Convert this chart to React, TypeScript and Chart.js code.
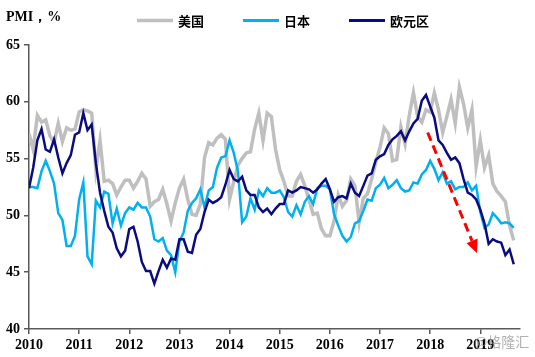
import React, { useEffect, useRef } from 'react';
import { Chart, registerables } from 'chart.js';

Chart.register(...registerables);

// ---- data ----
const yearLabels = ['2010', '2011', '2012', '2013', '2014', '2015', '2016', '2017', '2018', '2019'];
const yTicks = [40, 45, 50, 55, 60, 65];
const seriesNames = ['美国', '日本', '欧元区'];

// monthly PMI, Jan 2010 .. Sep 2019
const usData = [
  57.2, 55.8, 58.8, 58.2, 58.4, 57.0, 56.4, 58.1, 56.5, 57.7, 57.5, 57.6,
  59.1, 59.3, 59.2, 59.0, 54.0, 56.6, 53.0, 53.1, 52.8, 51.8, 52.5, 53.1,
  53.1, 52.4, 53.0, 53.7, 53.2, 50.8, 51.2, 51.4, 52.3, 51.0, 49.5, 51.1,
  52.4, 53.2, 51.4, 50.1, 50.0, 51.0, 55.1, 56.4, 56.2, 56.8, 57.1, 56.7,
  51.4, 53.0, 54.4, 55.0, 55.5, 55.6, 57.6, 59.0, 56.6, 59.0, 58.7, 55.8,
  54.0, 53.0, 51.7, 51.7, 53.0, 53.6, 52.6, 51.4, 50.1, 50.2, 48.8, 48.2,
  48.2, 49.5, 51.8, 50.8, 51.3, 53.2, 52.6, 49.4, 51.5, 51.9, 53.2, 54.7,
  56.0, 57.7, 57.2, 54.8, 54.9, 57.8, 56.3, 58.8, 60.8, 58.7, 58.2, 59.3,
  59.1, 60.8, 59.3, 57.3, 58.7, 60.2, 58.1, 61.3, 59.8, 57.7, 59.3, 54.3,
  56.6, 54.2, 55.3, 52.8, 52.1, 51.7, 51.2, 49.1, 47.8,
];
const jpData = [
  52.5, 52.5, 52.4, 53.9, 54.8, 53.9, 52.8, 50.2, 49.6, 47.3, 47.3, 48.2,
  51.4, 52.9, 46.4, 45.7, 51.3, 50.7, 52.1, 51.9, 49.3, 50.6, 49.1, 50.2,
  50.7, 50.5, 51.1, 50.7, 50.7, 49.9, 47.9, 47.7, 48.0, 46.9, 46.5, 45.0,
  47.7, 48.5, 50.4, 51.1, 51.5, 52.3, 50.7, 52.2, 52.5, 54.2, 55.1, 55.2,
  56.6, 55.5, 53.9, 49.4, 49.9, 51.5, 50.5, 52.2, 51.7, 52.4, 52.0, 52.0,
  52.2, 51.6, 50.3, 49.9, 50.9, 50.1, 51.2, 51.7, 51.0, 52.4, 52.6, 52.6,
  52.3, 50.1, 49.1, 48.2, 47.7, 48.1, 49.3, 49.5, 50.4, 51.4, 51.3, 52.4,
  52.7, 53.3, 52.4, 52.7, 53.1, 52.4, 52.1, 52.2, 52.9, 52.8, 53.6, 54.0,
  54.8, 54.1, 53.1, 53.8, 52.8, 53.0, 52.3, 52.5, 52.5, 52.9, 52.2, 52.6,
  50.3, 48.9, 49.2, 50.2, 49.8, 49.3, 49.4, 49.3, 48.9,
];
const ezData = [
  52.4, 54.2, 56.6, 57.6, 55.8, 55.6, 56.7, 55.1, 53.7, 54.6, 55.3, 57.1,
  57.3, 59.0, 57.5, 58.0, 54.6, 52.0, 50.4, 49.0, 48.5, 47.1, 46.4, 46.9,
  48.8, 49.0, 47.7, 45.9, 45.1, 45.1, 44.0, 45.1, 46.1, 45.4, 46.2, 46.1,
  47.9, 47.9, 46.8, 46.7, 48.3, 48.8, 50.3, 51.4, 51.1, 51.3, 51.6, 52.7,
  54.0, 53.2, 53.0, 53.4, 52.2, 51.8, 51.8, 50.7, 50.3, 50.6, 50.1, 50.6,
  51.0, 51.0, 52.2, 52.0, 52.2, 52.5, 52.4, 52.3, 52.0, 52.3, 52.8, 53.2,
  52.3, 51.2, 51.6, 51.7, 51.5, 52.8, 52.0, 51.7, 52.6, 53.5, 53.7, 54.9,
  55.2, 55.4, 56.2, 56.7, 57.0, 57.4, 56.6, 57.4, 58.1, 58.5, 60.1, 60.6,
  59.6, 58.6, 56.6, 56.2, 55.5, 54.9, 55.1, 54.6, 53.2, 52.0, 51.8, 51.4,
  50.5, 49.3, 47.5, 47.9, 47.7, 47.6, 46.5, 47.0, 45.7,
];

// trend arrow (month index, PMI value)
const arrowFrom = { x: 95.4, y: 57.3 };
const arrowTo = { x: 107.2, y: 46.7 };

const titleText = 'PMI，%';
const watermarkText = '@格隆汇';

const colors = ['#BFBFBF', '#00B0F0', '#0B0B80'];
const widths = [3.5, 2.5, 2.5];
const axisColor = '#595959';
const serifFont = '"Liberation Serif", "Times New Roman", serif';
const cjkFont = '"Noto Sans CJK SC", sans-serif';

const overlayPlugin = {
  id: 'overlay',
  afterDatasetsDraw(chart: any) {
    const ctx = chart.ctx;
    const xs = chart.scales.x;
    const ys = chart.scales.y;
    const x1 = xs.getPixelForValue(arrowFrom.x);
    const y1 = ys.getPixelForValue(arrowFrom.y);
    const x2 = xs.getPixelForValue(arrowTo.x);
    const y2 = ys.getPixelForValue(arrowTo.y);
    const ang = Math.atan2(y2 - y1, x2 - x1);
    const headLen = 13;
    const headHalf = 6;
    const bx = x2 - headLen * Math.cos(ang);
    const by = y2 - headLen * Math.sin(ang);
    ctx.save();
    ctx.strokeStyle = '#FF0000';
    ctx.lineWidth = 3;
    ctx.setLineDash([9, 5]);
    ctx.beginPath();
    ctx.moveTo(x1, y1);
    ctx.lineTo(bx, by);
    ctx.stroke();
    ctx.setLineDash([]);
    ctx.fillStyle = '#FF0000';
    ctx.beginPath();
    ctx.moveTo(x2, y2);
    ctx.lineTo(bx + headHalf * Math.sin(ang), by - headHalf * Math.cos(ang));
    ctx.lineTo(bx - headHalf * Math.sin(ang), by + headHalf * Math.cos(ang));
    ctx.closePath();
    ctx.fill();
    ctx.restore();
  },
  afterDraw(chart: any) {
    const ctx = chart.ctx;
    ctx.save();
    // title
    ctx.fillStyle = '#000';
    ctx.font = `bold 14px ${serifFont}`;
    ctx.textBaseline = 'alphabetic';
    ctx.textAlign = 'left';
    ctx.fillText(titleText, 6, 21);
    // legend
    chart.data.datasets.forEach((ds: any, k: number) => {
      const x0 = 137 + k * 106;
      ctx.strokeStyle = ds.borderColor;
      ctx.lineWidth = k === 0 ? 3.5 : 3;
      ctx.beginPath();
      ctx.moveTo(x0, 20.5);
      ctx.lineTo(x0 + 36, 20.5);
      ctx.stroke();
      ctx.fillStyle = '#000';
      ctx.font = `bold 13px ${cjkFont}`;
      ctx.textBaseline = 'middle';
      ctx.fillText(ds.label, x0 + 41, 21);
    });
    // watermark
    ctx.fillStyle = 'rgba(150,150,150,0.75)';
    ctx.font = `14px ${cjkFont}`;
    ctx.textBaseline = 'middle';
    ctx.fillText(watermarkText, 474, 342);
    ctx.restore();
  },
};

export default function App() {
  const canvasRef = useRef<HTMLCanvasElement | null>(null);

  useEffect(() => {
    const canvas = canvasRef.current;
    if (!canvas) return;
    const seriesData = [usData, jpData, ezData];
    const tickFont = { family: serifFont, weight: 'bold' as const, size: 14 };
    const chart = new Chart(canvas, {
      type: 'line',
      data: {
        datasets: seriesData.map((arr, k) => ({
          label: seriesNames[k],
          data: arr.map((v, i) => ({ x: i, y: v })),
          borderColor: colors[k],
          backgroundColor: colors[k],
          borderWidth: widths[k],
          pointRadius: 0,
          tension: 0,
          fill: false,
          order: 2 - k,
        })),
      },
      options: {
        responsive: false,
        animation: false,
        devicePixelRatio: 1,
        layout: { padding: { top: 45, right: 15, left: 0, bottom: 0 } },
        plugins: {
          legend: { display: false },
          title: { display: false },
          tooltip: { enabled: false },
        },
        scales: {
          x: {
            type: 'linear',
            min: 0,
            max: 117.5,
            afterBuildTicks: (s: any) => {
              s.ticks = yearLabels.map((_, k) => ({ value: k * 12 }));
            },
            afterFit: (s: any) => {
              s.height = 28;
            },
            ticks: {
              callback: (v: any) => yearLabels[Math.round(Number(v) / 12)],
              font: tickFont,
              color: '#000',
              padding: 3,
              maxRotation: 0,
              autoSkip: false,
            },
            grid: {
              display: true,
              drawOnChartArea: false,
              drawTicks: true,
              tickLength: 5,
              color: axisColor,
              lineWidth: 1.5,
            },
            border: { display: true, color: axisColor, width: 1.5 },
          },
          y: {
            min: 40,
            max: 65,
            afterBuildTicks: (s: any) => {
              s.ticks = yTicks.map((v) => ({ value: v }));
            },
            afterFit: (s: any) => {
              s.width = 29;
            },
            ticks: {
              font: tickFont,
              color: '#000',
              padding: 4,
            },
            grid: {
              display: true,
              drawOnChartArea: false,
              drawTicks: true,
              tickLength: 5,
              color: axisColor,
              lineWidth: 1.5,
            },
            border: { display: true, color: axisColor, width: 1.5 },
          },
        },
      },
      plugins: [overlayPlugin],
    });
    return () => chart.destroy();
  }, []);

  return (
    <div style={{ position: 'fixed', left: 0, top: 0, width: 535, height: 357, background: '#fff' }}>
      <canvas ref={canvasRef} width={535} height={357} style={{ display: 'block' }} />
    </div>
  );
}
